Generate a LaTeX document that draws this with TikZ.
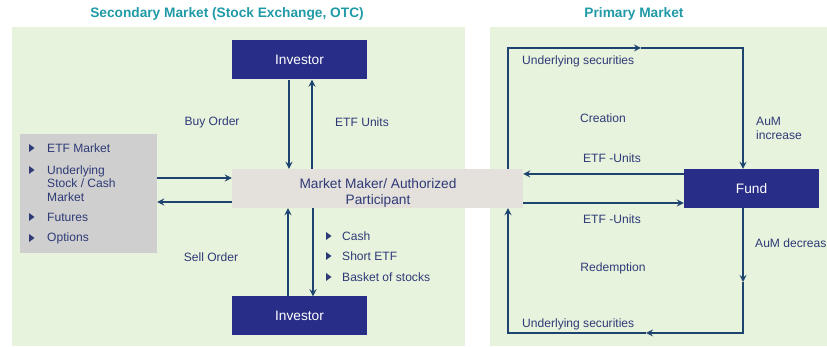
\documentclass[tikz,border=0pt]{standalone}
\usepackage{fontspec}
\setmainfont{Liberation Sans}
\usetikzlibrary{positioning,arrows}

\definecolor{panelgreen}{HTML}{E8F3DE}
\definecolor{investorblue}{HTML}{282D87}
\definecolor{greybox}{HTML}{CFCFCF}
\definecolor{mmgrey}{HTML}{E4E0DC}
\definecolor{titleteal}{HTML}{1F9AA6}
\definecolor{flowblue}{HTML}{1E436E}
\definecolor{labelblue}{HTML}{2E3A76}

\begin{document}
\begin{tikzpicture}[
                x=0.03cm, y=-0.03cm,
                darkbox/.style={fill=investorblue, text=white, font=\fontsize{11.7}{14}\selectfont, minimum width=4.05cm, minimum height=1.17cm, inner sep=0pt},
                mmbox/.style={fill=mmgrey, minimum width=8.73cm, minimum height=1.17cm, inner sep=0pt},
                mmtext/.style={text=labelblue, font=\fontsize{11.7}{13.6}\selectfont, align=center, inner sep=0pt},
                listbox/.style={fill=greybox, minimum width=4.11cm, minimum height=3.57cm, inner sep=0pt},
                heading/.style={text=titleteal, font=\fontsize{11.7}{14}\selectfont\bfseries},
                lbl/.style={text=labelblue, font=\fontsize{10.3}{11.5}\selectfont, inner sep=0pt},
                flow/.style={draw=flowblue, line width=1.6pt, ->, >=stealth}
            ]
            \useasboundingbox (0,0) rectangle (827,347);

            % market panels
            \fill[panelgreen] (12,27) rectangle (465,346);
            \fill[panelgreen] (490,27) rectangle (827,346);

            \node[heading] (secondary) at (227,14) {Secondary Market (Stock Exchange, OTC)};
            \node[heading] (primary) at (634,14) {Primary Market};

            \node[darkbox] (Investor_top) at (299.5,60) {Investor};
            \node[darkbox] (Investor_bot) at (299.5,316) {Investor};
            \node[mmbox] (MM) at (377.5,188.5) {};
            \node[mmtext] (MM_text) at (378,193) {Market Maker/ Authorized\\Participant};
            \node[darkbox] (Fund) at (751.5,188.5) {Fund};
            \node[listbox] (Markets) at (88.5,193.5) {};

            % list in the grey box
            \node[lbl, anchor=west] (m1) at (47,148) {ETF Market};
            \node[lbl, anchor=west, align=left] (m2) at (47,183.5) {Underlying\\Stock / Cash\\Market};
            \node[lbl, anchor=west] (m3) at (47,217) {Futures};
            \node[lbl, anchor=west] (m4) at (47,238) {Options};
            \foreach \y in {148,170,217,238}
                \fill[labelblue] (29,\y-4) -- (34.5,\y) -- (29,\y+4) -- cycle;

            % list under the market maker
            \node[lbl, anchor=west] (o1) at (342,236) {Cash};
            \node[lbl, anchor=west] (o2) at (342,256) {Short ETF};
            \node[lbl, anchor=west] (o3) at (342,277) {Basket of stocks};
            \foreach \y in {236,256,277}
                \fill[labelblue] (326,\y-4) -- (331.5,\y) -- (326,\y+4) -- cycle;

            \node[lbl] (buy) at (212,122) {Buy Order};
            \node[lbl] (units) at (362,122) {ETF Units};
            \node[lbl] (sell) at (211,257) {Sell Order};

            \node[lbl, anchor=west] (sec_in) at (522,61) {Underlying securities};
            \node[lbl] (creation) at (603,118) {Creation};
            \node[lbl, anchor=west, align=left] (aum_up) at (756,128.5) {AuM\\increase};
            \node[lbl] (etf_out) at (612,158) {ETF -Units};
            \node[lbl] (etf_in) at (612,219) {ETF -Units};
            \node[lbl, anchor=west] (aum_down) at (755,243) {AuM decreas};
            \node[lbl] (redemption) at (613,268) {Redemption};
            \node[lbl, anchor=west] (sec_out) at (522,324) {Underlying securities};

            % investors <-> market maker
            \coordinate (buy_x) at (289,0);
            \coordinate (units_x) at (312,0);
            \coordinate (sell_x) at (288,0);
            \coordinate (pay_x) at (313,0);
            \draw[flow] (Investor_top.south -| buy_x) -- (MM.north -| buy_x);
            \draw[flow] (MM.north -| units_x) -- (Investor_top.south -| units_x);
            \draw[flow] (Investor_bot.north -| sell_x) -- (MM.south -| sell_x);
            \draw[flow] (MM.south -| pay_x) -- (Investor_bot.north -| pay_x);

            % markets <-> market maker
            \coordinate (hedge_in) at (0,178);
            \coordinate (hedge_out) at (0,202);
            \draw[flow] (Markets.east |- hedge_in) -- (MM.west |- hedge_in);
            \draw[flow] (MM.west |- hedge_out) -- (Markets.east |- hedge_out);

            % fund <-> market maker
            \coordinate (etf_y1) at (0,174);
            \coordinate (etf_y2) at (0,203);
            \draw[flow] (Fund.west |- etf_y1) -- (MM.east |- etf_y1);
            \draw[flow] (MM.east |- etf_y2) -- (Fund.west |- etf_y2);

            % creation loop
            \coordinate (tl) at (508,48);
            \coordinate (tm) at (641,48);
            \coordinate (tr) at (743,48);
            \draw[flow] (MM.north -| tl) -- (tl) -- (tm);
            \draw[flow] (tm) -- (tr) -- (Fund.north -| tr);

            % redemption loop
            \coordinate (br) at (743,333);
            \coordinate (rm) at (743,282);
            \coordinate (bm) at (646,333);
            \coordinate (bl) at (508,333);
            \draw[flow] (Fund.south -| br) -- (rm);
            \draw[flow] (rm) -- (br) -- (bm);
            \draw[flow] (bm) -- (bl) -- (MM.south -| bl);
        \end{tikzpicture}
\end{document}
